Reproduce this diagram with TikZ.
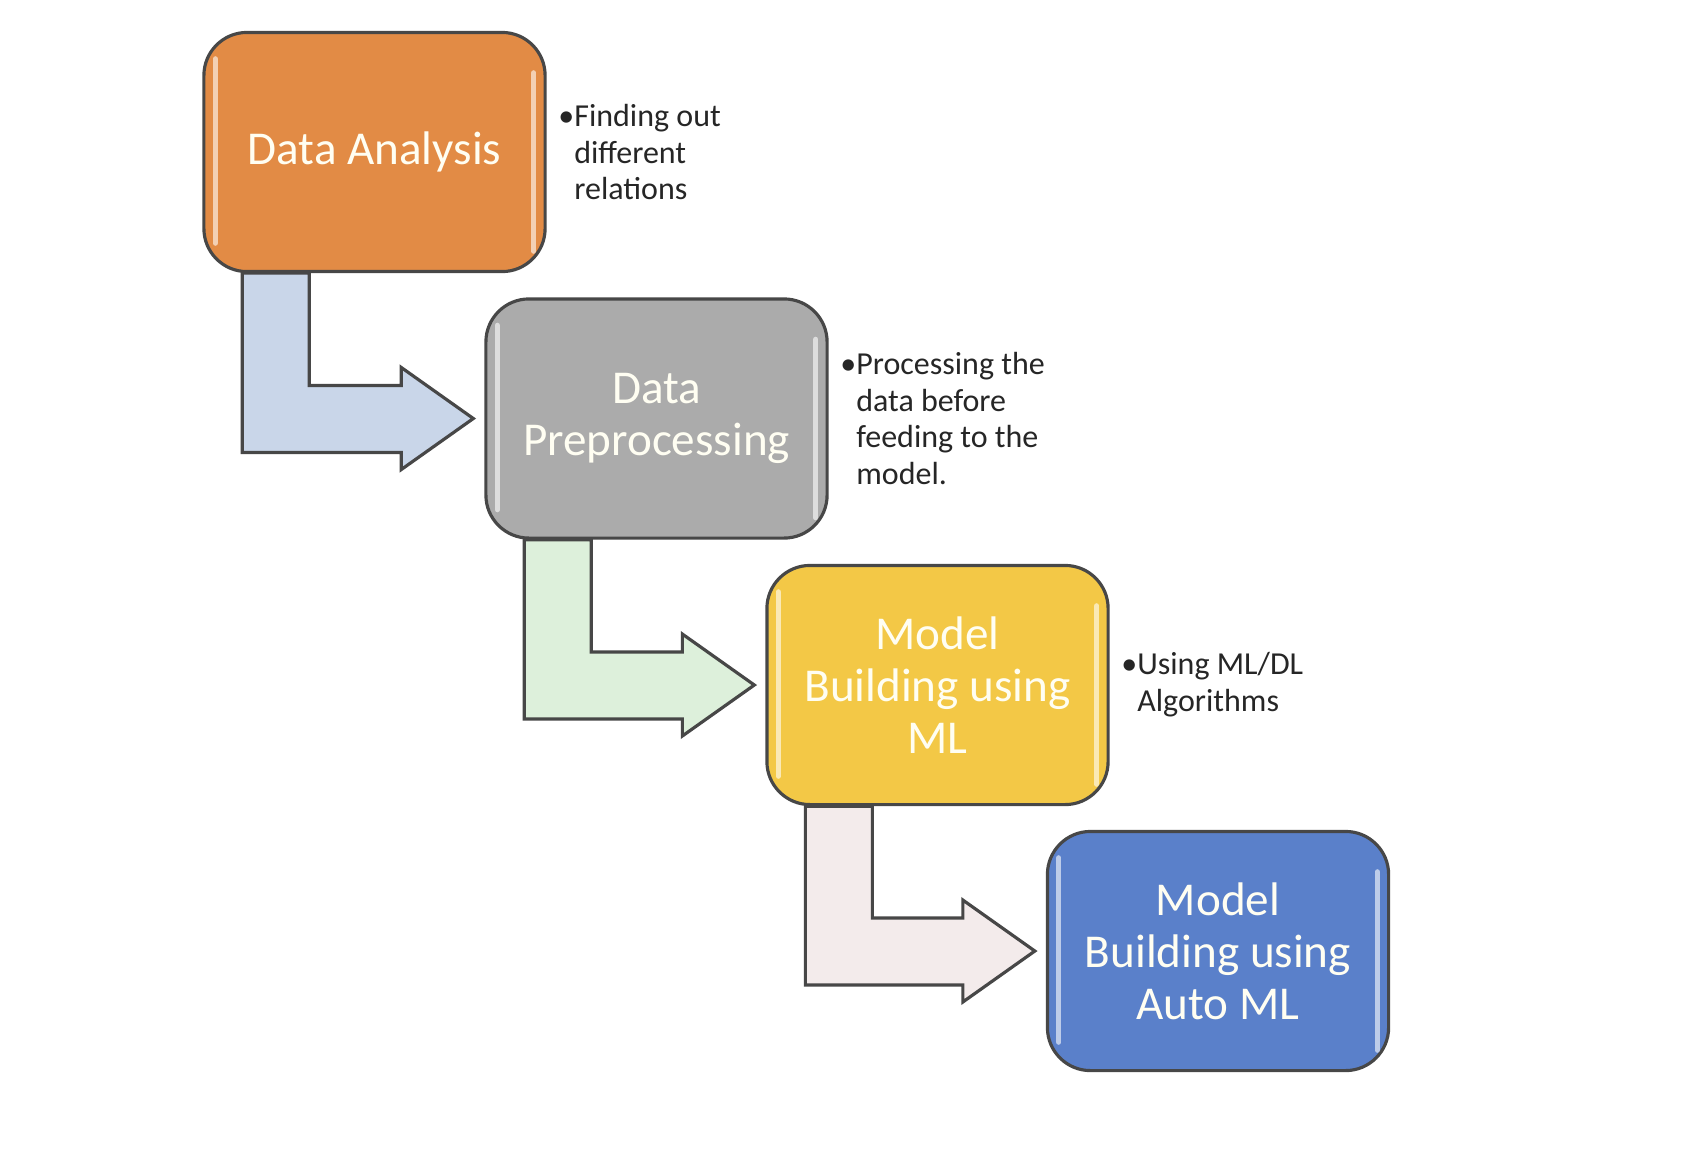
\documentclass[tikz,border=0pt]{standalone}
\usepackage{fontspec}
\setmainfont{Carlito}
\usetikzlibrary{calc, positioning, backgrounds}
\definecolor{boxorange}{RGB}{226,139,69}
\definecolor{boxgray}{RGB}{171,171,171}
\definecolor{boxyellow}{RGB}{243,200,70}
\definecolor{boxblue}{RGB}{90,128,202}
\definecolor{arrblue}{RGB}{201,214,233}
\definecolor{arrgreen}{RGB}{221,240,219}
\definecolor{arrpink}{RGB}{243,235,235}
\newcommand{\bl}{\phantom{\textbullet}}

\begin{document}
\begin{tikzpicture}[
    x=0.01cm, y=0.01cm,
    stage/.style={rectangle, draw=black!72, line width=0.9pt,
                  rounded corners=0.43cm, inner sep=0pt, align=center,
                  minimum width=3.41cm, minimum height=2.39cm,
                  text=white!95!yellow, font=\fontsize{13.4}{14.8}\selectfont},
    note/.style={align=left, inner sep=0pt, text=black!85,
                 font=\fontsize{9.1}{10.5}\selectfont},
    bent/.style={draw=black!72, line width=0.9pt, line join=miter},
    shine/.style={white, opacity=0.6, line width=1.5pt, line cap=round}
]
\useasboundingbox (0,0) rectangle (1686,-1175);

\node[stage, fill=boxorange] (ana) at (374.5,-152)  {Data Analysis};
\node[stage, fill=boxgray]   (pre) at (656.5,-418.5) {Data\\Preprocessing};
\node[stage, fill=boxyellow] (mod) at (937.5,-685)  {Model\\Building using\\ML};
\node[stage, fill=boxblue]   (aut) at (1218,-951)   {Model\\Building using\\Auto ML};

% highlights on the boxes
\foreach \n in {ana,pre,mod,aut} {
  \draw[shine] ($(\n.north west)+(13,-28)$) -- ($(\n.south west)+(13,30)$);
  \draw[shine] ($(\n.north east)+(-13,-42)$) -- ($(\n.south east)+(-13,22)$);
}

\node[note, right=0.11cm of ana] (anan)
    {\textbullet Finding out\\\bl different\\\bl relations};
\node[note, right=0.11cm of pre] (pren)
    {\textbullet Processing the\\\bl data before\\\bl feeding to the\\\bl model.};
\node[note, right=0.11cm of mod] (modn)
    {\textbullet Using ML/DL\\\bl Algorithms};

% bent block arrows between the stages
\begin{scope}[on background layer]
\foreach \from/\to/\col in {ana/pre/arrblue, pre/mod/arrgreen, mod/aut/arrpink} {
  \coordinate (s) at ($(\from.south west)+(40,0)$);
  \coordinate (t) at ($(\to.west)+(-11,0)$);
  \draw[bent, fill=\col] (s) -- ($(s |- t)+(0,-34)$) -- ($(t)+(-72,-34)$)
      -- ($(t)+(-72,-51)$) -- (t) -- ($(t)+(-72,51)$) -- ($(t)+(-72,33)$)
      -- ($(s |- t)+(67,33)$) -- ($(s)+(67,0)$) -- cycle;
}
\end{scope}
\end{tikzpicture}
\end{document}
